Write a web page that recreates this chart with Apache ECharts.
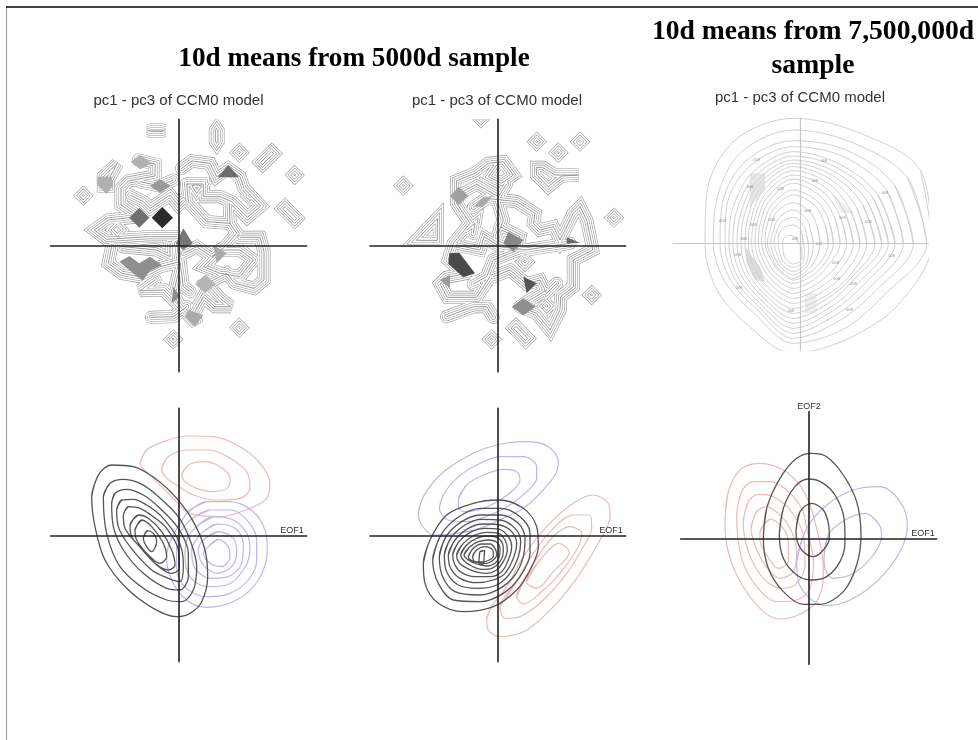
<!DOCTYPE html>
<html><head><meta charset="utf-8"><style>html,body{margin:0;padding:0;background:#fff}#c{width:978px;height:740px}</style>
<script src="https://cdn.jsdelivr.net/npm/echarts@6/dist/echarts.min.js"></script></head>
<body><div id="c"></div>
<script>
const mainTitles=[{t:'10d means from 5000d sample',x:354,y:44,s:27.2},{t:'10d means from 7,500,000d',x:813,y:17,s:27.6},{t:'sample',x:813,y:51,s:27.6}];
const subTitle='pc1 - pc3 of CCM0 model';
const eofLabels=[['EOF1',292,531],['EOF1',611,531],['EOF1',923,534],['EOF2',809,407]];

// ridges of the two 5000d panels (picture units, 3 per pixel)
const ridgesA=[
 [[332,150],[366,150],[372,152],[366,154],[332,154],[326,152]],
 [[530,146],[534,152],[534,184],[530,190],[526,184],[526,152]],
 [[598,215],[601,218],[598,221],[595,218]],
 [[662,247],[695,215],[701,221],[668,253]],
 [[764,282],[767,285],[764,288],[761,285]],
 [[729,386],[735,380],[770,415],[764,421]],
 [[130,344],[133,347],[130,350],[127,347]],
 [[598,740],[601,743],[598,746],[595,743]],
 [[400,775],[403,778],[400,781],[397,778]],
 [[232,440],[242,450],[232,460],[222,450]],
 [[190,290],[232,250],[205,300],[205,318],[190,318]],
 [[630,345],[634,349],[630,353],[626,349]],
 [[470,315],[486,318],[470,340],[456,318]]
];
const pathsA=[
 [[295,240],[345,252],[345,288],[265,303],[243,325],[243,375],[295,410]],
 [[295,410],[205,420],[163,450],[200,478],[325,470],[410,470]],
 [[270,345],[310,365],[330,385],[390,345],[415,375],[430,360]],
 [[300,305],[360,318],[400,300]],
 [[425,265],[455,243],[510,250],[530,290],[565,265],[600,290],[612,325],[662,378],[622,412],[575,365],[540,350],[490,350],[490,312],[440,312]],
 [[440,312],[445,365],[500,425],[570,430],[568,370]],
 [[570,430],[590,460],[555,500],[515,530],[470,500],[430,520]],
 [[600,472],[660,472],[672,515],[672,600],[642,625],[585,610],[560,580],[500,610],[540,655],[572,680],[525,680],[490,650],[462,700],[470,730],[420,680],[372,630],[300,632],[345,600]],
 [[215,500],[205,550],[245,580],[300,590],[360,560],[420,545],[430,620],[450,635]],
 [[250,500],[350,510],[390,530],[390,490]],
 [[335,712],[400,710],[440,680]],
 [[640,540],[600,510],[540,510],[490,560],[540,580],[600,590],[640,540]],
 [[410,490],[420,560],[400,640],[420,680]]
];
const fillsA=[
 [[[367,381],[399,413],[367,445],[335,413]],'#2b2b2b'],
 [[[298,383],[328,413],[298,443],[268,413]],'#707070'],
 [[[565,255],[597,292],[533,292]],'#6d6d6d'],
 [[[360,298],[392,318],[360,338],[330,318]],'#9a9a9a'],
 [[[300,225],[335,250],[300,268],[272,245]],'#b0b0b0'],
 [[[172,290],[215,290],[220,315],[200,342],[172,315]],'#b0b0b0'],
 [[[430,445],[458,490],[430,510],[408,490]],'#777777'],
 [[[238,545],[268,528],[298,550],[330,530],[366,555],[330,572],[308,602],[270,572]],'#8f8f8f'],
 [[[495,585],[528,612],[495,640],[465,612]],'#b5b5b5'],
 [[[445,690],[490,705],[465,740],[435,710]],'#aaaaaa'],
 [[[520,495],[560,520],[530,550]],'#aaaaaa'],
 [[[400,620],[420,650],[395,670]],'#8f8f8f']
];
const ridgesB=[
 [[530,182],[533,185],[530,188],[527,185]],
 [[595,215],[598,218],[595,221],[592,218]],
 [[660,182],[663,185],[660,188],[657,185]],
 [[130,314],[133,317],[130,320],[127,317]],
 [[762,410],[765,413],[762,416],[759,413]],
 [[695,642],[698,645],[695,648],[692,645]],
 [[395,775],[398,778],[395,781],[392,778]],
 [[363,112],[366,115],[363,118],[360,115]],
 [[462,745],[468,739],[503,775],[497,781]],
 [[170,480],[232,415],[232,480]],
 [[530,262],[548,262],[585,285],[655,285],[605,288],[565,320],[530,285]],
 [[365,606],[369,610],[365,614],[361,610]],
 [[560,674],[564,678],[560,682],[556,678]],
 [[495,541],[499,545],[495,549],[491,545]]
];
const pathsB=[
 [[290,370],[290,302],[345,280],[385,250],[430,245],[460,285],[425,310],[385,290],[410,255]],
 [[290,345],[350,312],[415,350],[440,312]],
 [[340,382],[380,355],[470,365],[525,400],[520,430],[540,450],[580,440],[600,480],[640,400],[660,380],[680,420],[695,490],[698,510],[640,540],[640,620],[602,650],[600,690],[570,750],[530,700],[480,680]],
 [[290,370],[330,430],[280,490],[265,540],[310,582],[260,592],[240,612],[262,652],[350,652],[390,590]],
 [[290,495],[360,510],[372,470],[420,500],[500,510],[560,500],[630,490]],
 [[420,440],[480,470],[470,512],[400,540],[380,590],[340,612]],
 [[260,710],[340,680],[380,680],[400,712]],
 [[400,590],[450,570],[500,612],[540,600],[560,640],[590,610]],
 [[340,460],[345,430],[320,450]],
 [[412,360],[430,420],[412,470]],
 [[480,680],[510,660],[560,630]]
];
const fillsB=[
 [[[297,320],[325,348],[297,375],[270,348]],'#a0a0a0'],
 [[[490,655],[527,680],[490,706],[455,680]],'#8f8f8f'],
 [[[268,520],[298,518],[345,580],[310,592],[265,552]],'#4a4a4a'],
 [[[490,590],[530,610],[500,640]],'#555555'],
 [[[620,472],[660,488],[620,490]],'#666666'],
 [[[445,455],[490,480],[460,515],[430,490]],'#888888'],
 [[[340,380],[370,352],[395,352],[370,380]],'#aaaaaa'],
 [[[240,600],[270,585],[270,625]],'#999999']
];
const spokeDeg=[0,30,60,90,120,150,180,210,240,270,300,330];
// radius of each density contour of the long sample along the 12 spokes
const contourRadii=[
 [415,440,385,375,355,300,265,268,280,330,330,365],
 [400,395,350,340,315,265,240,235,240,300,298,313],
 [360,350,322,308,285,245,220,218,225,285,270,285],
 [330,322,300,290,265,230,205,205,215,270,250,265],
 [305,292,275,275,245,210,193,195,205,255,235,245],
 [285,275,262,262,232,196,181,183,195,240,222,230],
 [265,255,248,250,218,182,169,172,185,225,208,213],
 [245,238,235,240,206,170,157,161,175,210,195,203],
 [220,218,222,230,194,157,145,150,165,195,185,195],
 [200,198,208,218,182,146,135,138,152,180,170,178],
 [180,180,193,205,170,136,125,126,140,165,155,162],
 [160,162,178,193,158,125,115,115,128,150,140,145],
 [140,145,163,180,146,115,105,104,116,135,125,125],
 [120,125,145,160,132,104,95,93,104,120,112,112],
 [105,110,130,145,118,93,85,82,92,110,100,100],
 [80,85,105,122,105,80,78,76,88,105,90,82],
 [60,62,82,100,88,70,68,68,80,95,80,65],
 [45,46,62,78,72,60,58,58,72,85,72,52],
 [30,32,45,55,55,50,46,48,62,72,62,38],
 [16,14,18,22,28,32,32,36,50,62,52,28]
];
const shadesC=[
 [[[255,280],[300,280],[300,330],[255,380]],'#e6e6e6'],
 [[[240,500],[285,560],[300,605],[270,600],[245,550]],'#dcdcdc'],
 [[[420,640],[455,640],[455,700],[420,700]],'#eeeeee'],
 [[[500,340],[570,400],[530,400]],'#eeeeee']
];
const contourTicks=[[275,240],[477,243],[450,302],[255,320],[347,328],[660,340],[610,427],[532,415],[172,422],[265,435],[320,420],[237,478],[218,525],[222,625],[512,550],[515,598],[565,612],[553,690],[378,693],[680,528],[428,392],[390,478],[462,492]];
const contourTickText='008';

const blackD=[
 [[155,290],[175,225],[215,195],[280,200],[345,235],[410,295],[460,365],[495,450],[503,530],[485,605],[450,640],[410,650],[340,625],[260,565],[195,480],[165,380]],
 [[190,290],[210,250],[250,238],[300,250],[350,285],[415,350],[450,420],[470,500],[460,570],[425,605],[380,600],[310,565],[240,500],[200,400]],
 [[215,310],[225,280],[260,268],[310,285],[360,325],[415,385],[445,460],[445,530],[420,570],[380,565],[310,520],[250,450],[220,380]],
 [[230,330],[245,300],[280,298],[320,315],[365,350],[415,420],[430,490],[420,545],[385,535],[335,510],[270,440],[235,380]],
 [[250,345],[265,320],[300,325],[340,350],[380,385],[415,450],[418,505],[395,520],[350,495],[290,430],[255,385]],
 [[270,375],[295,345],[325,355],[365,395],[395,450],[405,495],[385,510],[345,490],[300,440],[275,410]],
 [[285,390],[305,360],[335,380],[370,430],[380,470],[360,490],[325,465],[290,420]],
 [[310,415],[322,392],[340,400],[350,425],[335,455],[320,440]]
];
const redD=[
 [[300,190],[320,150],[370,125],[440,108],[520,110],[600,140],[660,190],[690,250],[680,295],[630,325],[540,350],[450,340],[390,285],[340,235]],
 [[365,205],[385,170],[440,150],[510,150],[570,175],[620,215],[630,265],[600,295],[530,300],[460,285],[410,255],[375,230]],
 [[425,225],[445,195],[490,185],[540,200],[570,235],[565,262],[520,275],[470,265],[435,245]]
];
const blueD=[
 [[440,340],[500,305],[570,305],[640,335],[675,390],[682,450],[655,540],[590,600],[500,622],[440,600],[395,540],[380,470]],
 [[445,365],[510,330],[575,330],[625,365],[650,420],[650,480],[625,540],[570,580],[500,590],[440,565],[410,510],[410,430]],
 [[470,380],[520,350],[580,360],[620,400],[630,450],[610,510],[560,555],[500,560],[450,530],[435,470],[440,420]],
 [[485,400],[530,372],[585,385],[610,430],[605,490],[565,530],[510,535],[465,505],[455,450]],
 [[490,420],[535,395],[580,415],[590,455],[575,500],[530,520],[490,495],[475,450]],
 [[505,440],[535,418],[565,440],[570,470],[545,500],[510,490],[490,460]]
];
const blackE=[
 [[190,490],[210,420],[260,345],[340,310],[415,300],[490,325],[530,380],[535,440],[510,510],[470,570],[400,620],[310,635],[235,610],[195,550]],
 [[218,480],[240,410],[290,355],[360,325],[420,325],[480,350],[510,400],[510,460],[480,530],[430,580],[360,605],[280,600],[235,550]],
 [[238,470],[258,410],[305,365],[360,345],[420,345],[475,370],[495,415],[490,470],[465,525],[420,565],[360,585],[285,575],[248,530]],
 [[253,465],[272,415],[315,375],[365,358],[420,360],[465,385],[482,425],[475,470],[450,520],[410,555],[355,565],[295,555],[260,515]],
 [[265,465],[285,420],[325,385],[370,372],[420,375],[455,395],[470,430],[460,475],[435,520],[400,540],[350,548],[300,535],[272,505]],
 [[278,465],[297,425],[335,395],[375,385],[418,388],[445,410],[455,440],[445,480],[425,515],[390,530],[345,530],[305,518],[285,495]],
 [[290,465],[310,430],[345,405],[380,397],[415,400],[435,420],[442,450],[430,485],[410,510],[380,520],[345,515],[312,500],[295,485]],
 [[302,465],[320,435],[350,415],[382,408],[410,412],[428,432],[430,455],[420,485],[395,505],[365,508],[335,498],[312,482]],
 [[312,465],[330,440],[355,425],[385,420],[408,425],[420,445],[418,470],[405,490],[380,498],[350,492],[325,480]],
 [[325,470],[340,445],[365,432],[390,432],[405,445],[410,465],[400,480],[378,490],[350,487],[332,480]],
 [[338,470],[350,450],[375,440],[398,450],[400,468],[388,480],[365,486],[345,485]],
 [[360,455],[374,452],[372,475],[370,492],[357,492]]
];
const blueE=[
 [[175,340],[190,290],[240,225],[320,170],[410,135],[500,125],[565,140],[595,185],[585,225],[540,280],[490,325],[430,355],[360,385],[290,400],[220,405],[185,375]],
 [[238,325],[250,285],[290,235],[350,195],[420,170],[490,170],[530,200],[530,235],[500,275],[450,315],[390,345],[320,365],[265,360]],
 [[295,300],[320,255],[370,225],[430,208],[470,215],[480,240],[460,270],[420,300],[370,325],[310,335],[295,320]]
];
const redE=[
 [[380,660],[395,620],[440,560],[490,470],[560,380],[640,310],[700,285],[745,310],[750,350],[720,420],[660,520],[590,610],[500,690],[420,710],[385,690]],
 [[420,620],[460,560],[520,460],[580,385],[640,345],[690,345],[695,385],[670,440],[620,520],[550,600],[480,650],[435,655]],
 [[470,590],[510,510],[570,420],[630,380],[665,400],[655,440],[600,520],[540,580],[490,612]],
 [[500,545],[540,480],[597,430],[628,457],[580,515],[530,565]]
];
const blackF=[
 [[280,430],[290,340],[330,250],[380,190],[425,175],[470,185],[520,240],[560,320],[573,420],[560,510],[520,590],[450,628],[400,628],[340,590],[295,520]],
 [[328,420],[340,340],[375,275],[415,252],[455,262],[495,300],[522,370],[525,440],[510,500],[470,545],[425,555],[380,540],[340,490]],
 [[378,410],[390,350],[425,325],[460,345],[475,385],[478,430],[460,465],[430,485],[400,470],[382,440]]
];
const redF=[
 [[165,380],[175,290],[210,225],[265,205],[330,220],[385,265],[420,330],[455,470],[460,540],[440,620],[385,660],[330,672],[270,640],[205,550],[170,450]],
 [[200,360],[215,290],[250,260],[300,260],[350,285],[395,340],[410,400],[430,500],[420,580],[380,615],[320,620],[260,575],[215,490]],
 [[220,380],[235,320],[265,298],[310,305],[360,345],[400,420],[405,510],[380,565],[335,580],[280,550],[235,470]],
 [[243,400],[260,350],[290,335],[335,365],[365,410],[380,470],[370,530],[330,550],[285,510],[255,450]],
 [[270,410],[300,372],[340,400],[355,445],[355,500],[325,520],[290,480],[270,435]]
];
const blueF=[
 [[380,500],[410,400],[470,330],[550,285],[630,275],[690,320],[712,390],[690,470],[620,560],[540,615],[470,632],[420,610],[385,560]],
 [[462,490],[475,420],[525,375],[585,355],[625,385],[635,420],[610,480],[550,535],[490,550],[465,520]]
];

// panel frames
const panels=[
 {ox:40, oy:80, cx:415,cy:498,x0:32,x1:800,y0:118,y1:875,axis:'#222',w:1.6},
 {ox:360,oy:80, cx:412,cy:498,x0:30,x1:797,y0:118,y1:875,axis:'#222',w:1.6},
 {ox:665,oy:80, cx:406,cy:490,x0:25,x1:790,y0:115,y1:812,axis:'#c8c8c8',w:1.2},
 {ox:40, oy:400,cx:415,cy:406,x0:32,x1:800,y0:25,y1:785,axis:'#222',w:1.6},
 {ox:360,oy:400,cx:412,cy:406,x0:30,x1:797,y0:25,y1:785,axis:'#222',w:1.6},
 {ox:670,oy:395,cx:417,cy:430,x0:32,x1:800,y0:50,y1:808,axis:'#222',w:1.6}
];
const grid=[],xAxis=[],yAxis=[],series=[];
panels.forEach((p,i)=>{
 grid.push({left:p.ox+p.x0/3,top:p.oy+p.y0/3,width:(p.x1-p.x0)/3,height:(p.y1-p.y0)/3});
 const ax=(min,max)=>({type:'value',gridIndex:i,min,max,z:10,
   axisLine:{show:true,onZero:true,lineStyle:{color:p.axis,width:p.w}},axisTick:{show:false},axisLabel:{show:false},splitLine:{show:false}});
 xAxis.push(ax(p.x0-p.cx,p.x1-p.cx));
 yAxis.push(ax(p.cy-p.y1,p.cy-p.y0));
});
const toData=(i,pt)=>[pt[0]-panels[i].cx,panels[i].cy-pt[1]];
function lineData(i,polys,closeCount){
 const out=[];
 polys.forEach(poly=>{
  const pts=poly.concat(poly.slice(0,closeCount));
  pts.forEach(q=>out.push(toData(i,q)));
  out.push(['-','-']);
 });
 return out;
}
function addLines(i,data,color,width,smooth,z){
 series.push({type:'line',xAxisIndex:i,yAxisIndex:i,data,showSymbol:false,symbol:'none',silent:true,animation:false,connectNulls:false,
  smooth:smooth||false,z:z||2,lineStyle:{color,width}});
}
function addFills(i,fills,z){
 series.push({type:'custom',xAxisIndex:i,yAxisIndex:i,silent:true,animation:false,clip:true,z:z||5,data:fills.map((f,k)=>[k]),
  renderItem:(params,api)=>{
   const f=fills[params.dataIndex];
   return {type:'polygon',shape:{points:f[0].map(q=>api.coord(toData(i,q)))},style:{fill:f[1]}};
  }});
}
function addStroke(i,closed,open,color,width,z){
 const all=closed.map(p=>({p,c:true})).concat(open.map(p=>({p,c:false})));
 series.push({type:'custom',xAxisIndex:i,yAxisIndex:i,silent:true,animation:false,clip:true,z,data:all.map((f,k)=>[k]),
  renderItem:(params,api)=>{
   const f=all[params.dataIndex];
   return {type:f.c?'polygon':'polyline',shape:{points:f.p.map(q=>api.coord(toData(i,q)))},
    style:{fill:'none',stroke:color,lineWidth:width,lineJoin:'miter',miterLimit:3,lineCap:'round'}};
  }});
}
// each ridge is a stack of parallel contour lines
const ribbonGrey=[13,9,5,1];
function addRibbons(i,closed,open){
 ribbonGrey.forEach((w,k)=>{
  addStroke(i,closed,open,'#989898',w,2);
  if(w>1.6) addStroke(i,closed,open,'#ffffff',w-1.2,2);
 });
}
addRibbons(0,ridgesA,pathsA); addFills(0,fillsA);
addRibbons(1,ridgesB,pathsB); addFills(1,fillsB);
// long-sample panel
addFills(2,shadesC,1);
const contourPolys=contourRadii.map(rs=>rs.map((r,k)=>{
  const a=spokeDeg[k]*Math.PI/180;
  return [385+r*Math.cos(a),490-r*Math.sin(a)];
}));
addLines(2,lineData(2,contourPolys,2),'#d0d0d0',1,0.33,2);
series.push({type:'scatter',xAxisIndex:2,yAxisIndex:2,silent:true,animation:false,symbolSize:0,z:6,
 data:contourTicks.map(q=>toData(2,q)),
 label:{show:true,position:'inside',formatter:contourTickText,fontSize:4,color:'#777',fontFamily:'Liberation Sans'}});
// EOF panels
const eof=[[3,redD,blueD,blackD],[4,redE,blueE,blackE],[5,redF,blueF,blackF]];
eof.forEach(([i,r,b,k])=>{
 addLines(i,lineData(i,r,2),'#efb9b9',1.2,0.33,2);
 addLines(i,lineData(i,b,2),'#b9b9ec',1.2,0.33,2);
 addLines(i,lineData(i,k,2),'#555555',1.3,0.33,3);
});
const title=[];
mainTitles.forEach(m=>title.push({text:m.t,left:m.x,top:m.y,textAlign:'center',padding:0,textStyle:{fontFamily:'Liberation Serif',fontWeight:'bold',fontSize:m.s,color:'#000',lineHeight:30}}));
[[178.5,93],[497,93],[800,90]].forEach(s=>title.push({text:subTitle,left:s[0],top:s[1],textAlign:'center',padding:0,textStyle:{fontFamily:'Liberation Sans',fontWeight:'normal',fontSize:15,color:'#333',lineHeight:16}}));
eofLabels.forEach(e=>title.push({text:e[0],left:e[1],top:e[2]-5,textAlign:'center',padding:0,textStyle:{fontFamily:'Liberation Sans',fontWeight:'normal',fontSize:9,color:'#333',lineHeight:10}}));
const chart=echarts.init(document.getElementById('c'),null,{renderer:'canvas'});
chart.setOption({animation:false,backgroundColor:'#fff',title,grid,xAxis,yAxis,series,
 graphic:[
  {type:'line',silent:true,shape:{x1:6.5,y1:6,x2:6.5,y2:740},style:{stroke:'#9a9a9a',lineWidth:1}},
  {type:'line',silent:true,shape:{x1:6,y1:7,x2:978,y2:7},style:{stroke:'#000',lineWidth:1.4}}
 ]});
</script></body></html>
